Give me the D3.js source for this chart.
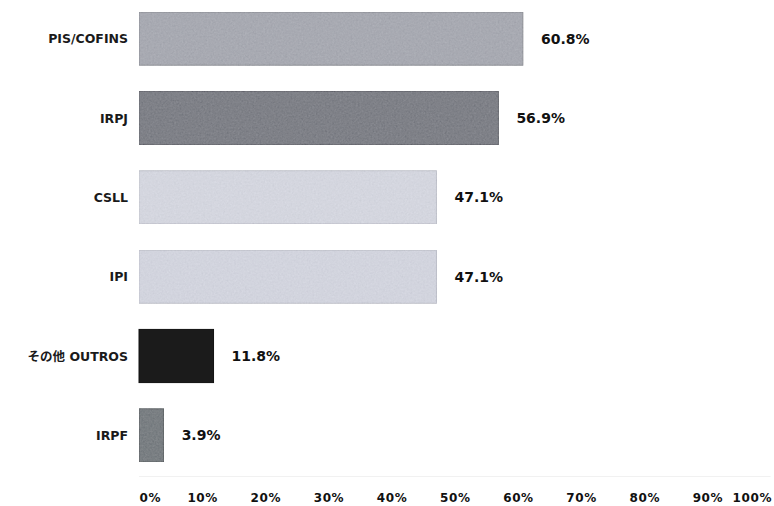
<!DOCTYPE html>
<html>
<head>
<meta charset="utf-8">
<script src="https://cdn.jsdelivr.net/npm/d3@7"></script>
<style>
  html, body { margin: 0; padding: 0; background: #ffffff; }
  svg { display: block; }
</style>
</head>
<body>
<div id="chart"></div>
<script>
// Share of companies citing each tax (%)
const categories = ["PIS/COFINS", "IRPJ", "CSLL", "IPI", "その他 OUTROS", "IRPF"];
const values = [60.8, 56.9, 47.1, 47.1, 11.8, 3.9];
const barColors = ["#a8aab2", "#7f8188", "#d4d6df", "#d2d4de", "#1b1b1b", "#7a7f83"];
const edgeColors = ["#8e9097", "#6a6c72", "#c1c3cc", "#bfc1cb", "#111111", "#5e6366"];
const tickValues = [0, 10, 20, 30, 40, 50, 60, 70, 80, 90, 100];
const tickLabels = ["0%", "10%", "20%", "30%", "40%", "50%", "60%", "70%", "80%", "90%", "100%"];

const W = 774, H = 506;
const svg = d3.select("#chart").append("svg").attr("width", W).attr("height", H);

// light grain applied over the grey bar fills
const defs = svg.append("defs");
const grain = defs.append("filter").attr("id", "grain")
  .attr("x", 0).attr("y", 0).attr("width", 1).attr("height", 1);
grain.append("feTurbulence").attr("type", "fractalNoise")
  .attr("baseFrequency", 0.55).attr("numOctaves", 2).attr("seed", 7).attr("result", "noise");
grain.append("feColorMatrix").attr("in", "noise").attr("type", "matrix")
  .attr("values", "0.33 0.33 0.33 0 0  0.33 0.33 0.33 0 0  0.33 0.33 0.33 0 0  0 0 0 0 1")
  .attr("result", "gray");
grain.append("feComposite").attr("in", "SourceGraphic").attr("in2", "gray")
  .attr("operator", "arithmetic").attr("k1", 0).attr("k2", 1).attr("k3", 0.18).attr("k4", -0.09)
  .attr("result", "mix");
grain.append("feComposite").attr("in", "mix").attr("in2", "SourceGraphic").attr("operator", "in");

const x = d3.scaleLinear().domain([0, 100]).range([139, 770.6]);
const y = d3.scaleBand().domain(categories).range([-1, 475])
  .paddingInner(0.33).paddingOuter(0.165);

const data = categories.map((c, i) => ({ c, v: values[i], fill: barColors[i], edge: edgeColors[i] }));

// faint baseline
svg.append("line")
  .attr("x1", x(0)).attr("x2", x(100))
  .attr("y1", 476.5).attr("y2", 476.5)
  .attr("stroke", "#f1f1f1").attr("stroke-width", 1);

// bars
svg.append("g").selectAll("rect").data(data).join("rect")
  .attr("x", x(0))
  .attr("y", d => y(d.c))
  .attr("width", d => x(d.v) - x(0))
  .attr("height", y.bandwidth())
  .attr("fill", d => d.fill)
  .attr("stroke", d => d.edge)
  .attr("stroke-width", 1)
  .attr("filter", d => d.fill === "#1b1b1b" ? null : "url(#grain)");

// category labels
svg.append("g").selectAll("text").data(data).join("text")
  .attr("x", 128)
  .attr("y", d => y(d.c) + y.bandwidth() / 2)
  .attr("dy", "0.36em")
  .attr("text-anchor", "end")
  .attr("font-family", "'DejaVu Sans', 'Noto Sans CJK JP', sans-serif")
  .attr("font-weight", "bold")
  .attr("font-size", 12.5)
  .attr("fill", "#1a1a1a")
  .text(d => d.c);

// value labels
svg.append("g").selectAll("text").data(data).join("text")
  .attr("x", d => x(d.v) + 18)
  .attr("y", d => y(d.c) + y.bandwidth() / 2)
  .attr("dy", "0.36em")
  .attr("font-family", "'DejaVu Sans', sans-serif")
  .attr("font-weight", "bold")
  .attr("font-size", 14)
  .attr("fill", "#111111")
  .text(d => d.v.toFixed(1) + "%");

// x-axis tick labels (end labels kept inside the plot width)
const axis = d3.axisBottom(x).tickValues(tickValues)
  .tickFormat((d, i) => tickLabels[i]).tickSize(0).tickPadding(0);
const gx = svg.append("g").attr("transform", "translate(0,493)").call(axis);
gx.select(".domain").remove();
gx.selectAll("text")
  .attr("font-family", "'DejaVu Sans', sans-serif")
  .attr("font-weight", "bold")
  .attr("font-size", 12)
  .attr("letter-spacing", 0.6)
  .attr("fill", "#111111")
  .attr("dy", "0.71em")
  .attr("text-anchor", (d, i) => i === 0 ? "start" : (i === tickValues.length - 1 ? "end" : "middle"))
  .attr("dx", (d, i) => i === tickValues.length - 1 ? 1 : 0);
</script>
</body>
</html>
